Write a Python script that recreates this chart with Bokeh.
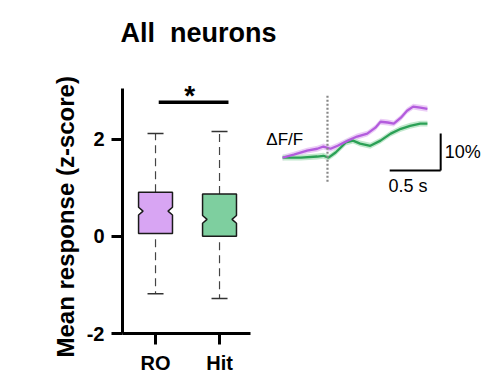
from bokeh.plotting import figure
from bokeh.models import Range1d, FixedTicker, Label, Title
from bokeh.embed import file_html
from bokeh.resources import INLINE

# ---- box plot data (z-score) ----
groups = ["RO", "Hit"]
positions = [1, 2]
q1 = [0.06, 0.00]
median = [0.52, 0.35]
q3 = [0.91, 0.87]
lower = [-1.18, -1.28]
upper = [2.12, 2.16]
notch_h = [0.08, 0.08]
fills = ["#D8A5F3", "#7ECF9F"]

# significance
sig_pair = [1.05, 2.14]
sig_y = 2.76
sig_text = "*"

# ---- inset traces (time in s, dF/F in %) ----
t_ro = [-0.44, -0.33, -0.20, -0.10, -0.04, 0.03, 0.10, 0.20, 0.29, 0.39, 0.47, 0.52,
        0.59, 0.65, 0.72, 0.78, 0.84, 0.91, 0.98]
dff_ro = [0.0, 0.8, 1.9, 2.4, 3.0, 2.4, 3.2, 4.6, 5.7, 6.5, 8.1, 9.7,
          9.5, 9.2, 10.8, 12.7, 13.8, 13.5, 13.2]
t_hit = [-0.44, -0.26, -0.10, -0.04, 0.01, 0.08, 0.18, 0.25, 0.32, 0.42, 0.52, 0.62,
         0.72, 0.81, 0.91, 0.98]
dff_hit = [0.0, 0.0, 0.3, 0.5, 0.0, 1.4, 4.1, 4.6, 3.8, 3.2, 4.6, 6.5,
           7.8, 8.6, 9.2, 9.2]
sem = 0.8
line_ro = "#B35CDD"
band_ro = "#EBCDF6"
line_hit = "#2BA056"
band_hit = "#C2E8CD"

FONT = "Liberation Sans"
INK = "black"

# frame: y from -2 (px 333) up to 3.6 (px ~61); axis line stops at 3.05 (px 88)
p = figure(width=492, height=387, output_backend="svg", toolbar_location=None,
           x_range=Range1d(0.484, 6.109), y_range=Range1d(-2, 3.6),
           min_border_left=122, min_border_right=10, min_border_top=61,
           min_border_bottom=54)
p.title = Title(text="All\u00a0 neurons", text_font=FONT, text_font_size="27px",
                text_font_style="bold", text_color=INK, align="left", offset=-2,
                standoff=27)
p.add_layout(Title(text="Mean response (z-score)", text_font=FONT,
                   text_font_size="24px", text_font_style="bold", text_color=INK,
                   align="left", offset=-24, standoff=10), "left")
p.outline_line_color = None
p.xgrid.visible = False
p.ygrid.visible = False
p.background_fill_color = "white"
p.border_fill_color = "white"

p.extra_x_ranges = {"t": Range1d(-2.01, 1.52)}
p.extra_y_ranges = {"dff": Range1d(-47.57, 26.0)}

# axes
for ax in (p.xaxis[0], p.yaxis[0]):
    ax.axis_line_width = 3
    ax.axis_line_color = INK
    ax.major_tick_line_width = 3
    ax.major_tick_line_color = INK
    ax.major_tick_in = 0
    ax.major_tick_out = 11
    ax.minor_tick_line_color = None
    ax.major_label_text_font = FONT
    ax.major_label_text_font_size = "20px"
    ax.major_label_text_font_style = "bold"
    ax.major_label_text_color = INK

p.xaxis.ticker = FixedTicker(ticks=positions)
p.xaxis.major_label_overrides = {pos: g for pos, g in zip(positions, groups)}
p.xaxis.bounds = (0.484, 2.484)
p.xaxis.major_label_standoff = 7

p.yaxis.ticker = FixedTicker(ticks=[-2, 0, 2])
p.yaxis.major_label_overrides = {-2: "-2", 0: "0", 2: "2"}
p.yaxis.bounds = (-2, 3.05)
p.yaxis.major_label_standoff = 7

# boxes
w = 0.265
nin = 0.07
cap = 0.125
xs, ys = [], []
for c, a, m, b, h in zip(positions, q1, median, q3, notch_h):
    xs.append([c - w, c + w, c + w, c + w - nin, c + w, c + w, c - w, c - w, c - w + nin, c - w])
    ys.append([a, a, m - h, m, m + h, b, b, m + h, m, m - h])

# whiskers
p.segment(x0=positions, y0=q3, x1=positions, y1=upper, line_color="#444444",
          line_width=1.2, line_dash="8 5")
p.segment(x0=positions, y0=[v - 0.12 for v in q1], x1=positions, y1=lower,
          line_color="#444444", line_width=1.2, line_dash="8 5")
p.segment(x0=[c - cap for c in positions], y0=upper, x1=[c + cap for c in positions],
          y1=upper, line_color="#333333", line_width=1.5)
p.segment(x0=[c - cap for c in positions], y0=lower, x1=[c + cap for c in positions],
          y1=lower, line_color="#333333", line_width=1.5)
p.patches(xs, ys, fill_color=fills, line_color="#1a1a1a", line_width=1.5)

# significance
p.segment(x0=[sig_pair[0]], y0=[sig_y], x1=[sig_pair[1]], y1=[sig_y],
          line_color=INK, line_width=3.5)
p.add_layout(Label(x=(sig_pair[0] + sig_pair[1]) / 2 - 0.06, y=sig_y - 0.17, text=sig_text,
                   text_font=FONT, text_font_size="28px", text_font_style="bold",
                   text_color=INK, text_align="center", text_baseline="bottom"))

# inset
p.varea(x=t_ro, y1=[v - sem for v in dff_ro], y2=[v + sem for v in dff_ro],
        fill_color=band_ro, x_range_name="t", y_range_name="dff")
p.varea(x=t_hit, y1=[v - sem for v in dff_hit], y2=[v + sem for v in dff_hit],
        fill_color=band_hit, x_range_name="t", y_range_name="dff")
p.line(t_hit, dff_hit, line_color=line_hit, line_width=2.3, x_range_name="t", y_range_name="dff")
p.line(t_ro, dff_ro, line_color=line_ro, line_width=2.3, x_range_name="t", y_range_name="dff")

# stimulus onset
p.segment(x0=[0], y0=[-6.5], x1=[0], y1=[17.3], line_color="#888888", line_width=2.2,
          line_dash="2 2", x_range_name="t", y_range_name="dff")

# scale bars
sb_t, sb_y = 1.11, -3.5
p.segment(x0=[sb_t - 0.5, sb_t], y0=[sb_y, sb_y], x1=[sb_t, sb_t], y1=[sb_y, sb_y + 10],
          line_color=INK, line_width=2, x_range_name="t", y_range_name="dff")
p.add_layout(Label(x=sb_t + 0.04, y=sb_y + 5, text="10%", text_font=FONT,
                   text_font_size="18px", text_baseline="middle", text_color=INK,
                   x_range_name="t", y_range_name="dff"))
p.add_layout(Label(x=sb_t - 0.32, y=sb_y - 1.5, text="0.5 s", text_font=FONT,
                   text_font_size="18px", text_align="center", text_baseline="top",
                   text_color=INK, x_range_name="t", y_range_name="dff"))
p.add_layout(Label(x=-0.6, y=5.0, text="ΔF/F", text_font=FONT,
                   text_font_size="17px", text_baseline="middle", text_color=INK,
                   x_range_name="t", y_range_name="dff"))

open("out.html", "w").write(file_html(p, INLINE))
